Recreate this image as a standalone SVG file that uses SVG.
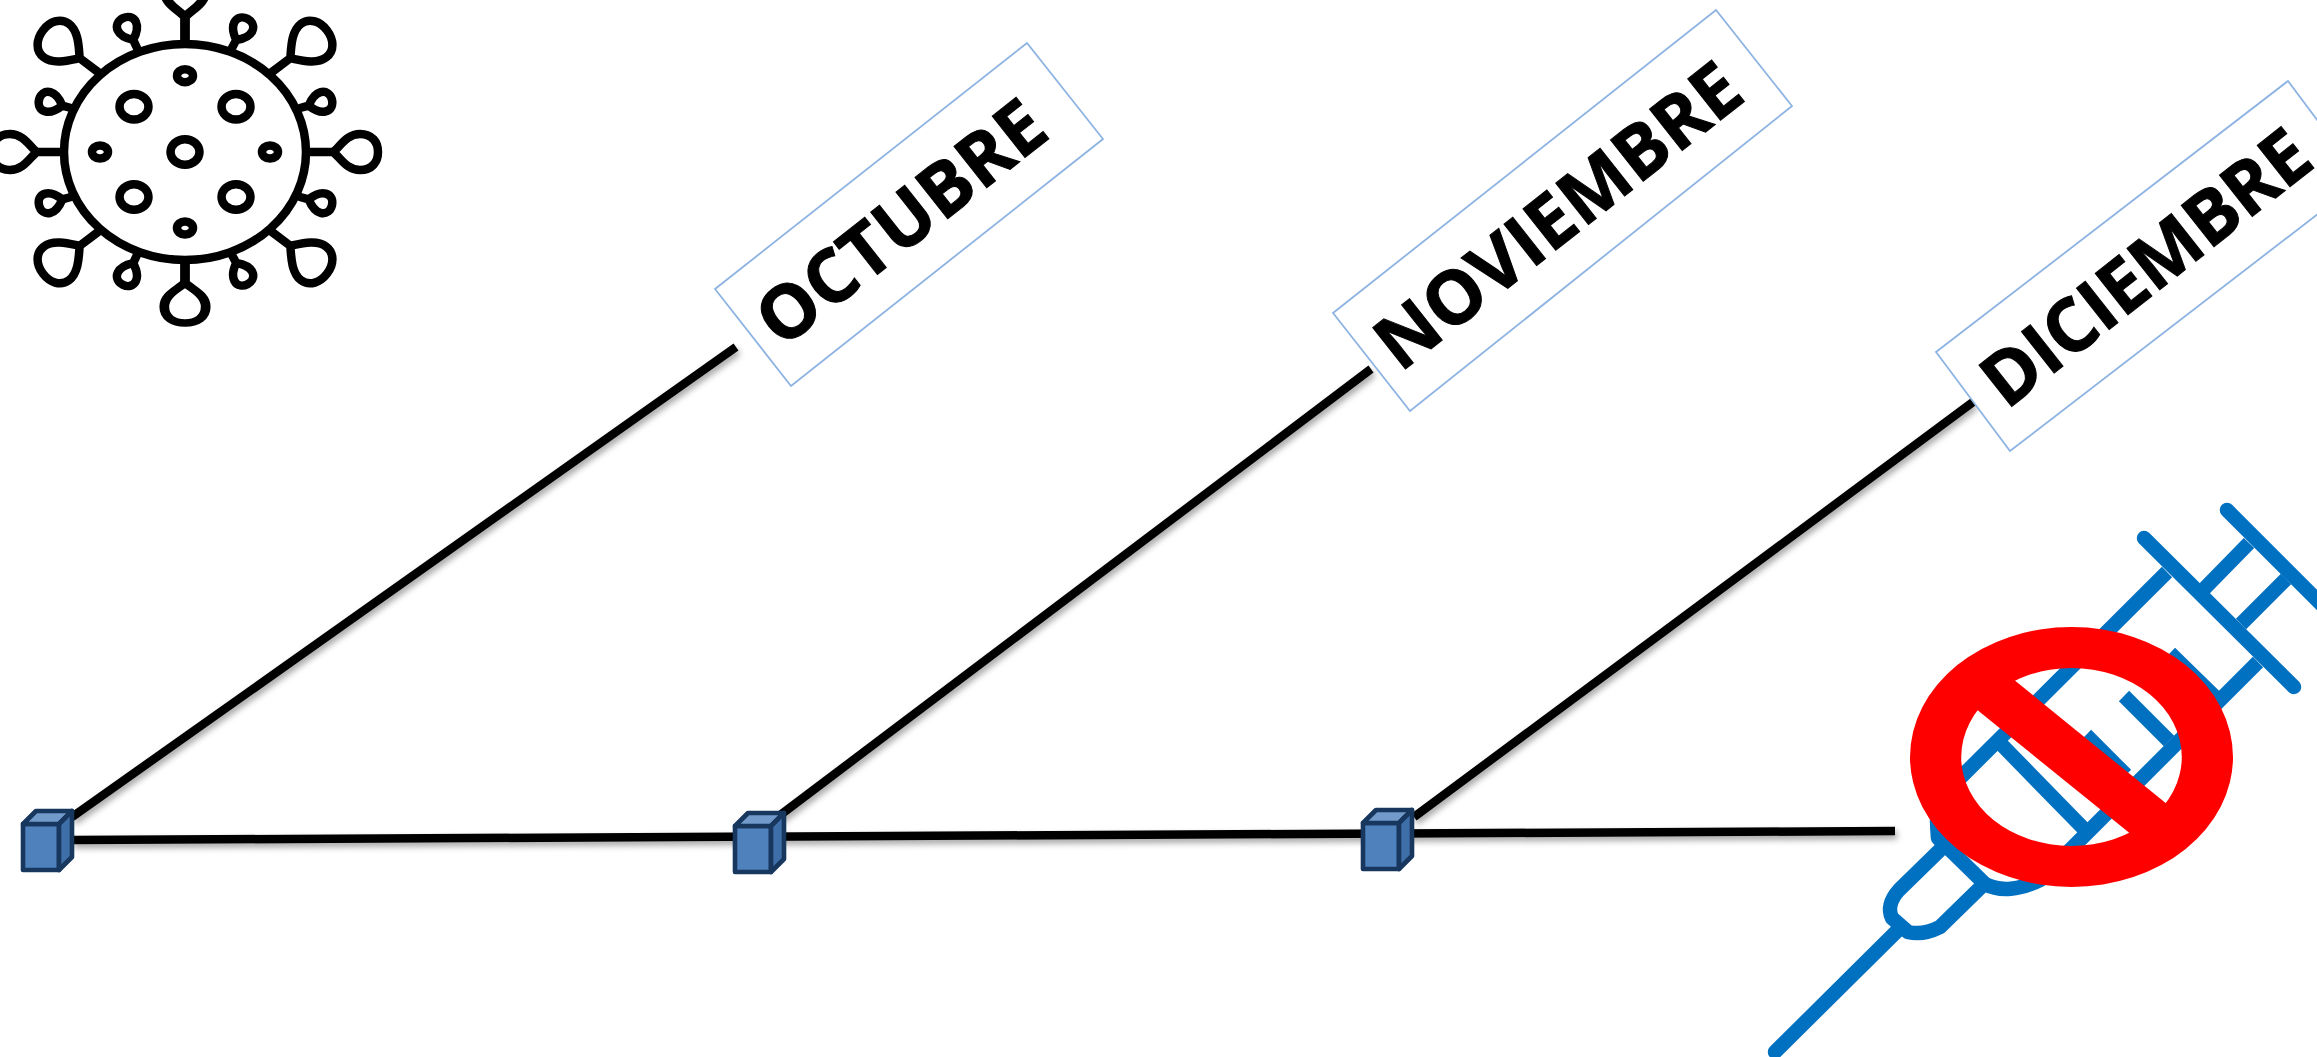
<svg xmlns="http://www.w3.org/2000/svg" xmlns:xlink="http://www.w3.org/1999/xlink" width="2317" height="1057" viewBox="0 0 2317 1057">
<style>
.conn{stroke:#000;stroke-width:8.5;fill:none;filter:url(#sh)}
.box{fill:#fff;stroke:#8DB3E2;stroke-width:1.8}
.lbl{font-family:"Open Sans","Liberation Sans",sans-serif;font-weight:700;font-size:74px;fill:#000;stroke:#000;stroke-width:1;text-anchor:middle}
.cf{fill:#4F81BD;stroke:#17375E;stroke-width:4.6;stroke-linejoin:round}
.ct{fill:#729ACA;stroke:#17375E;stroke-width:4.6;stroke-linejoin:round}
.cs{fill:#3F6FA8;stroke:#17375E;stroke-width:4.6;stroke-linejoin:round}
.v{fill:none;stroke:#000;stroke-width:8.5;stroke-linejoin:round;stroke-linecap:round}
.sy{fill:none;stroke:#0070C0;stroke-width:14.5;stroke-linecap:round;stroke-linejoin:round}
.syb{fill:none;stroke:#0070C0;stroke-width:14.5;stroke-linecap:butt;stroke-linejoin:round}
</style>
<defs>
<filter id="sh" x="0" y="0" width="2317" height="1057" filterUnits="userSpaceOnUse" primitiveUnits="userSpaceOnUse"><feDropShadow dx="2" dy="4" stdDeviation="3" flood-color="#000" flood-opacity="0.35"/></filter>
<path id="big" class="v" d="M0,0H25M25,0C32,-5 38,-18 52,-18C64,-18 70,-10 70,0C70,10 64,18 52,18C38,18 32,5 25,0Z"/>
<path id="bigd" class="v" d="M0,0H23M23,0C30,-8 40,-21 52,-21C63,-21 69,-11 69,0C69,11 63,21 52,21C40,21 30,8 23,0Z"/>
<path id="small" class="v" d="M0,0H9M9,0C12,-4 17,-10 24,-10C30,-10 33,-5 33,0C33,5 30,10 24,10C17,10 12,4 9,0Z"/>
<g id="cube"><rect class="cf" x="0" y="13" width="36" height="46"/><path class="ct" d="M0,13L13,0H49L36,13Z"/><path class="cs" d="M36,13L49,0V46L36,59Z"/></g>
</defs>
<rect width="2317" height="1057" fill="#fff"/>
<g id="connectors">
<path class="conn" d="M72,817L736,347"/>
<path class="conn" d="M779,816L1371,369"/>
<path class="conn" d="M1414,817L1973,402"/>
<path class="conn" d="M72,840L1895,831"/>
</g>
<g id="node-virus">
<ellipse class="v" cx="185" cy="152" rx="121" ry="108"/>
<ellipse class="v" cx="134" cy="106.7" rx="14.5" ry="12.7"/><ellipse class="v" cx="236" cy="106.7" rx="14.5" ry="12.7"/><ellipse class="v" cx="134" cy="197" rx="14.5" ry="12.7"/><ellipse class="v" cx="236" cy="197" rx="14.5" ry="12.7"/><ellipse class="v" cx="185" cy="152" rx="14.5" ry="12.7"/>
<ellipse class="v" cx="185" cy="75.7" rx="8" ry="6.5"/><ellipse class="v" cx="185" cy="228" rx="8" ry="6.5"/><ellipse class="v" cx="100" cy="152" rx="8" ry="6.5"/><ellipse class="v" cx="270" cy="152" rx="8" ry="6.5"/>
<use href="#big" transform="translate(308,152)"/>
<use href="#big" transform="translate(62,152) rotate(180)"/>
<use href="#big" transform="translate(185,42) rotate(-90) scale(1,1.15)"/>
<use href="#big" transform="translate(185,260) rotate(90) scale(0.9,1.15)"/>
<use href="#bigd" transform="translate(272,72) rotate(-37)"/>
<use href="#bigd" transform="translate(98,72) rotate(-143)"/>
<use href="#bigd" transform="translate(272,232) rotate(37)"/>
<use href="#bigd" transform="translate(98,232) rotate(143)"/>
<use href="#small" transform="translate(137,48) rotate(-115)"/>
<use href="#small" transform="translate(232,48) rotate(-62)"/>
<use href="#small" transform="translate(71,108) rotate(-165)"/>
<use href="#small" transform="translate(300,108) rotate(-15)"/>
<use href="#small" transform="translate(71,197) rotate(165)"/>
<use href="#small" transform="translate(300,197) rotate(15)"/>
<use href="#small" transform="translate(137,255) rotate(115)"/>
<use href="#small" transform="translate(232,255) rotate(62)"/>
</g>
<g id="node-cube-1"><use href="#cube" transform="translate(23,811)"/></g>
<g id="node-cube-2"><use href="#cube" transform="translate(735,813)"/></g>
<g id="node-cube-3"><use href="#cube" transform="translate(1363,810)"/></g>
<g id="node-octubre"><path class="box" d="M715,289L1027,43L1103,139L791,386Z"/><text class="lbl" transform="translate(917,243) rotate(-38.3)">OCTUBRE</text></g>
<g id="node-noviembre"><path class="box" d="M1333,313L1716,10L1792,106L1410,411Z"/><text class="lbl" transform="translate(1574,236) rotate(-38.3)">NOVIEMBRE</text></g>
<g id="node-diciembre"><path class="box" d="M1936,352L2288,81L2362,180L2010,451Z"/><text class="lbl" textLength="396" lengthAdjust="spacing" transform="translate(2162,288) rotate(-38.3)">DICIEMBRE</text></g>
<g id="node-syringe">
<path class="sy" d="M2227,510L2325,608"/>
<path class="sy" d="M2144,538L2294,687"/>
<path class="syb" d="M2249,543L2204,589M2286,579L2241,624"/>
<path class="syb" d="M2167,572L1938,800C1936,815 1937,825 1938,838L1985,884C2000,892 2020,890 2040,880L2258,662"/>
<path class="syb" d="M1942,848L1899,890C1890,900 1888,910 1892,918L1908,932C1920,935 1930,932 1940,927L1983,885"/>
<path class="sy" d="M1898,930L1775,1052"/>
<path class="syb" d="M2000,743L2083,828M2086,735L2126,775M2124,696L2169,741M2170,653L2215,697"/>
</g>
<g id="node-prohibited">
<path fill="#f00" fill-rule="evenodd" d="M1910,757A161.5,130 0 1 1 2233,757A161.5,130 0 1 1 1910,757ZM1961.2,757A110.3,89 0 1 0 2181.8,757A110.3,89 0 1 0 1961.2,757Z"/>
<path fill="#f00" d="M1955,692L1992,662L2189,822L2153,852Z"/>
</g>
</svg>
